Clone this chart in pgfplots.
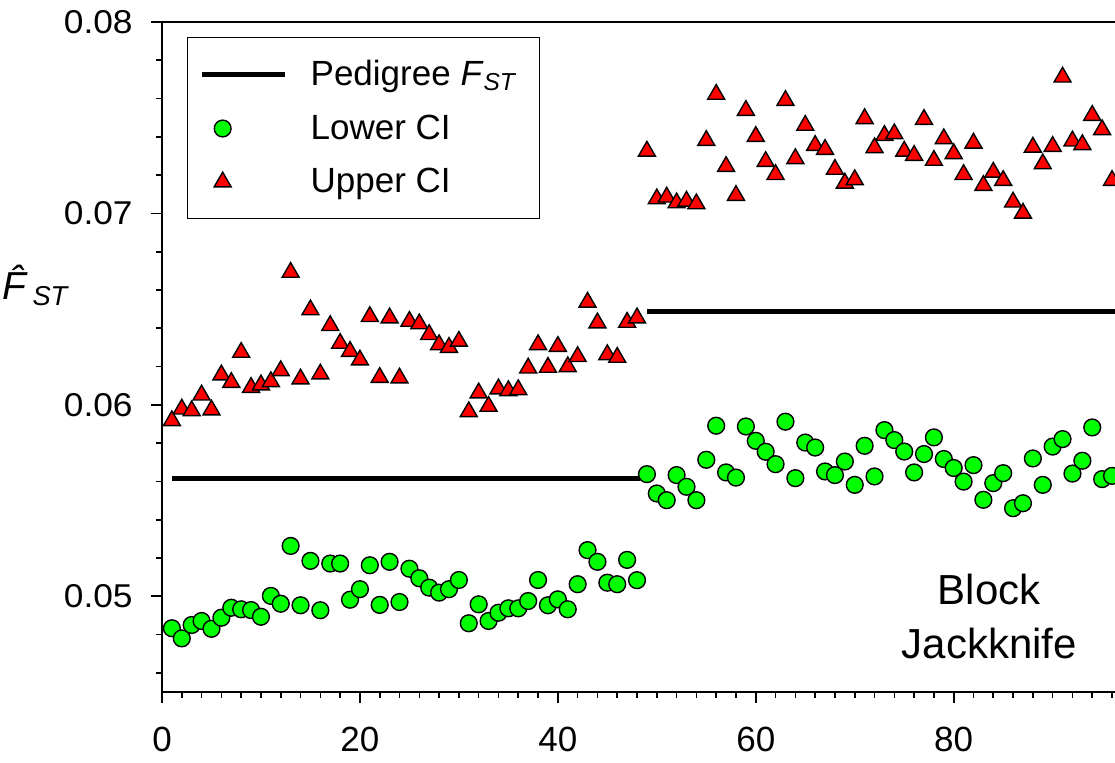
\documentclass[border=0pt]{standalone}
\usepackage{fontspec}
\setmainfont{Liberation Sans}
\newfontfamily\ytickfont[FakeStretch=1.07]{Liberation Sans}
\usepackage{pgfplots}
\pgfplotsset{compat=1.18}
\pgfplotsset{
  marklegend/.style={legend image code/.code={\draw[mark repeat=2,mark phase=2,##1] plot coordinates {(0pt,0pt) (10.5pt,0pt) (41.5pt,0pt)}; \path[draw=none,fill=none] (0pt,0pt) rectangle (49.5pt,0.1pt);}},
  linelegend/.style={legend image code/.code={\draw[line width=2.2pt] (0pt,0pt) -- (41.5pt,0pt); \path[draw=none,fill=none] (0pt,0pt) rectangle (49.5pt,0.1pt);}},
}
\begin{document}
\begin{tikzpicture}
\useasboundingbox (-81pt,-35.5pt) rectangle (476.5pt,346pt);
\begin{axis}[
  at={(0,0)}, anchor=south west,
  scale only axis, width=476.5pt, height=335pt,
  xmin=0, xmax=96.3, ymin=0.045, ymax=0.08,
  clip=false,
  axis x line*=bottom, axis y line*=left,
  x axis line style={-, line width=0.9pt},
  y axis line style={-, line width=0.9pt},
  xtick={0,20,40,60,80},
  minor xtick={2,4,...,18,22,24,...,38,42,44,...,58,62,64,...,78,82,84,...,96},
  ytick={0.05,0.06,0.07,0.08},
  minor ytick={0.046,0.048,0.052,0.054,0.056,0.058,0.062,0.064,0.066,0.068,0.072,0.074,0.076,0.078},
  tick align=outside,
  major tick length=5.5pt, minor tick length=3pt,
  every tick/.style={black, line width=0.8pt},
  scaled y ticks=false,
  yticklabel style={/pgf/number format/.cd, fixed, fixed zerofill, precision=2, /tikz/.cd,
    font=\ytickfont\fontsize{16.5}{19}\selectfont, inner xsep=9pt},
  xticklabel style={font=\fontsize{17.5}{20}\selectfont, inner ysep=4.8pt, text height=19.5pt, text depth=0pt},
  /pgf/number format/assume math mode=true,
  ylabel={\textit{\^{F}}\textsubscript{\textit{ST}}},
  ylabel style={font=\fontsize{19.5}{23}\selectfont, rotate=-90, at={(axis description cs:-0.132,0.607)}, anchor=center},
  legend style={at={(0.026,0.978)}, anchor=north west, draw=black, line width=0.7pt,
    font=\fontsize{17.5}{21}\selectfont, inner xsep=6pt, inner ysep=8.5pt,
    nodes={inner xsep=5pt, inner ysep=3pt}, row sep=7pt},
  legend cell align=left,
]
\addplot[black, line width=2.4pt, unbounded coords=jump, linelegend]
  coordinates {(1,0.05615) (48.3,0.05615) (48.6,nan) (49,0.06487) (96.3,0.06487)};
\addlegendentry{Pedigree \textit{F}\textsubscript{\textit{ST}}}
\addplot[only marks, mark=*, mark size=4.2pt, mark options={fill=green, draw=black, line width=0.7pt}, marklegend]
  table {
x y
1 0.04833
2 0.0478
3 0.0485
4 0.04871
5 0.0483
6 0.04888
7 0.0494
8 0.04932
9 0.04928
10 0.04893
11 0.05002
12 0.04961
13 0.05263
14 0.04953
15 0.05185
16 0.04927
17 0.05171
18 0.05171
19 0.04982
20 0.05037
21 0.05162
22 0.04955
23 0.0518
24 0.0497
25 0.05144
26 0.05094
27 0.05045
28 0.05019
29 0.05037
30 0.05085
31 0.04859
32 0.04958
33 0.04871
34 0.04914
35 0.04937
36 0.04937
37 0.04975
38 0.05085
39 0.04953
40 0.04984
41 0.04932
42 0.05063
43 0.05241
44 0.0518
45 0.05071
46 0.05063
47 0.0519
48 0.05084
49 0.05638
50 0.05537
51 0.05502
52 0.05633
53 0.05572
54 0.05502
55 0.05713
56 0.05891
57 0.05647
58 0.0562
59 0.05887
60 0.05812
61 0.05755
62 0.0569
63 0.05912
64 0.05617
65 0.05803
66 0.05777
67 0.05652
68 0.05633
69 0.05704
70 0.05582
71 0.05786
72 0.05626
73 0.05868
74 0.05816
75 0.05756
76 0.05647
77 0.05743
78 0.0583
79 0.05717
80 0.0567
81 0.05599
82 0.05685
83 0.05504
84 0.05591
85 0.05643
86 0.0546
87 0.05486
88 0.0572
89 0.05582
90 0.05782
91 0.05821
92 0.05641
93 0.05708
94 0.05882
95 0.05612
96 0.05629
};
\addlegendentry{Lower CI}
\addplot[only marks, mark=triangle*, mark size=4.9pt, mark options={fill=red, draw=black, line width=0.7pt}, marklegend]
  table {
x y
1 0.05917
2 0.05978
3 0.05969
4 0.06051
5 0.05973
6 0.06156
7 0.06117
8 0.06274
9 0.06091
10 0.06104
11 0.06121
12 0.06178
13 0.06692
14 0.06135
15 0.06496
16 0.06161
17 0.06414
18 0.06321
19 0.06279
20 0.06234
21 0.06461
22 0.06143
23 0.06454
24 0.0614
25 0.06436
26 0.06423
27 0.06367
28 0.06314
29 0.063
30 0.06332
31 0.05964
32 0.06062
33 0.05992
34 0.06083
35 0.06074
36 0.06079
37 0.06192
38 0.06314
39 0.06196
40 0.06305
41 0.06199
42 0.06252
43 0.06536
44 0.06428
45 0.06262
46 0.06248
47 0.06431
48 0.06454
49 0.07325
50 0.07076
51 0.07085
52 0.07055
53 0.07064
54 0.0705
55 0.07381
56 0.07622
57 0.07245
58 0.07094
59 0.07538
60 0.07402
61 0.07271
62 0.07203
63 0.0759
64 0.07286
65 0.0746
66 0.07355
67 0.07334
68 0.0723
69 0.07158
70 0.07176
71 0.07495
72 0.07343
73 0.07407
74 0.07416
75 0.07325
76 0.07303
77 0.07491
78 0.07277
79 0.0739
80 0.07312
81 0.07203
82 0.07367
83 0.07146
84 0.07215
85 0.07172
86 0.07059
87 0.07001
88 0.07346
89 0.07259
90 0.0735
91 0.07712
92 0.07378
93 0.07359
94 0.07512
95 0.07437
96 0.07172
};
\addlegendentry{Upper CI}
\draw[line width=0.9pt] (rel axis cs:0,1) -- (rel axis cs:1,1);
\node[font=\fontsize{21}{27}\selectfont, align=center] at (axis cs:83.6,0.04897) {Block\\Jackknife};
\end{axis}
\end{tikzpicture}
\end{document}
